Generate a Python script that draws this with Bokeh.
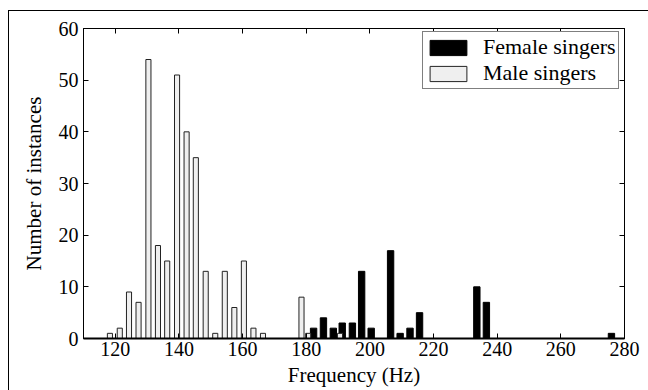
from bokeh.plotting import figure
from bokeh.models import Range1d, FixedTicker, LinearAxis
from bokeh.embed import file_html
from bokeh.resources import INLINE

# ---- data ----
male_freq = [118.3, 121.4, 124.3, 127.3, 130.4, 133.4, 136.3, 139.4, 142.4, 145.3,
             148.4, 151.4, 154.4, 157.4, 160.4, 163.4, 166.4, 178.5, 180.6, 190.6]
male_count = [1, 2, 9, 7, 54, 18, 15, 51, 40, 35,
              13, 1, 13, 6, 15, 2, 1, 8, 1, 1]

female_freq = [182.3, 185.4, 188.5, 191.3, 194.5, 197.4, 200.4, 206.5, 209.5,
               212.6, 215.6, 233.6, 236.6, 275.9]
female_count = [2, 4, 2, 3, 3, 13, 2, 17, 1, 2, 5, 10, 7, 1]

x_ticks = [120, 140, 160, 180, 200, 220, 240, 260, 280]
y_ticks = [0, 10, 20, 30, 40, 50, 60]

x_label = "Frequency (Hz)"
y_label = "Number of instances"
female_label = "Female singers"
male_label = "Male singers"

FONT = "'Liberation Serif', 'Times New Roman', serif"

p = figure(frame_width=541, frame_height=310,
           x_range=Range1d(110, 280), y_range=Range1d(0, 60),
           output_backend="svg", toolbar_location=None,
           min_border_left=74, min_border_top=17,
           min_border_right=24, min_border_bottom=52)
p.styles = {"margin-left": "8px", "margin-top": "10px",
            "border-left": "1px solid black", "border-top": "1px solid black"}

p.xgrid.visible = False
p.ygrid.visible = False
p.outline_line_color = "black"
p.outline_line_width = 1
p.background_fill_color = "white"
p.border_fill_color = "white"

p.vbar(x=female_freq, top=female_count, bottom=0, width=2.0,
       fill_color="black", line_color="black", line_width=1,
       legend_label=female_label)
p.vbar(x=male_freq, top=male_count, bottom=0, width=1.6,
       fill_color="#efefef", line_color="#222222", line_width=1,
       legend_label=male_label)

for ax in (p.xaxis[0], p.yaxis[0]):
    ax.major_tick_in = 5
    ax.major_tick_out = 0
    ax.minor_tick_in = 0
    ax.minor_tick_out = 0
    ax.axis_line_color = "black"
    ax.major_tick_line_color = "black"
    ax.major_label_text_font = FONT
    ax.major_label_text_font_size = "20px"
    ax.major_label_text_color = "black"
    ax.axis_label_text_font = FONT
    ax.axis_label_text_font_size = "21px"
    ax.axis_label_text_font_style = "normal"
    ax.axis_label_text_color = "black"

p.xaxis[0].ticker = FixedTicker(ticks=x_ticks)
p.yaxis[0].ticker = FixedTicker(ticks=y_ticks)
p.xaxis[0].axis_label = x_label
p.yaxis[0].axis_label = y_label
p.xaxis[0].major_label_standoff = 3
p.xaxis[0].axis_label_standoff = 4
p.xaxis[0].axis_line_width = 2
p.yaxis[0].major_label_standoff = 5
p.yaxis[0].axis_label_standoff = 10

top_ax = LinearAxis(ticker=FixedTicker(ticks=x_ticks), major_label_text_color=None,
                    major_tick_in=5, major_tick_out=0, minor_tick_in=0, minor_tick_out=0,
                    major_label_standoff=0, axis_line_color="black")
right_ax = LinearAxis(ticker=FixedTicker(ticks=y_ticks), major_label_text_color=None,
                      major_tick_in=5, major_tick_out=0, minor_tick_in=0, minor_tick_out=0,
                      major_label_standoff=0, axis_line_color="black")
p.add_layout(top_ax, "above")
p.add_layout(right_ax, "right")

lg = p.legend[0]
lg.location = (339, 249)
lg.margin = 0
lg.padding = 2
lg.spacing = 0
lg.glyph_width = 46
lg.glyph_height = 19
lg.label_height = 19
lg.label_standoff = 12
lg.label_text_font = FONT
lg.label_text_font_size = "22px"
lg.label_text_line_height = 1.0
lg.label_text_color = "black"
lg.border_line_color = "black"
lg.border_line_width = 1
lg.background_fill_color = "white"
lg.background_fill_alpha = 1.0

open("out.html", "w").write(file_html(p, INLINE))
